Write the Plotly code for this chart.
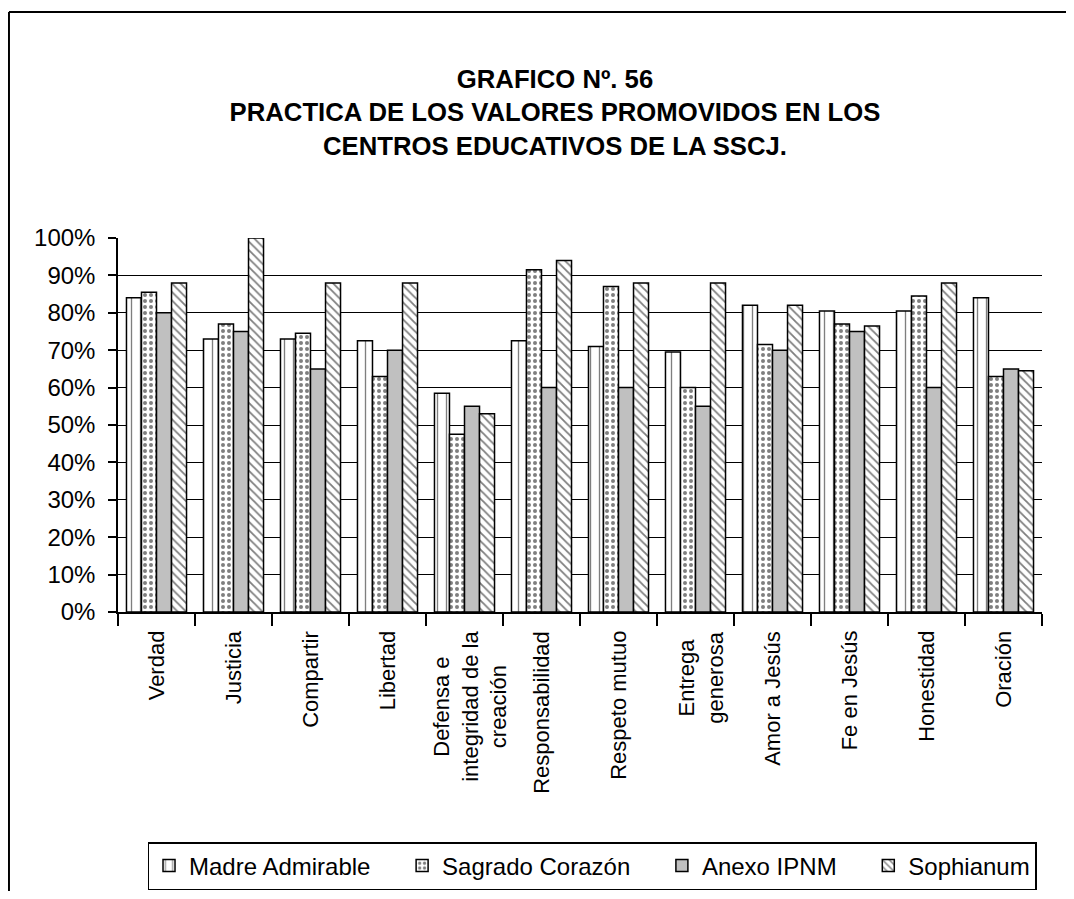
import plotly.graph_objects as go

categories = ["Verdad", "Justicia", "Compartir", "Libertad",
              "Defensa e<br>integridad de la<br>creación", "Responsabilidad",
              "Respeto mutuo", "Entrega<br>generosa", "Amor a Jesús",
              "Fe en Jesús", "Honestidad", "Oración"]

madre_admirable = [0.84, 0.73, 0.73, 0.725, 0.585, 0.725, 0.71, 0.695, 0.82, 0.805, 0.805, 0.84]
sagrado_corazon = [0.855, 0.77, 0.745, 0.63, 0.475, 0.915, 0.87, 0.60, 0.715, 0.77, 0.845, 0.63]
anexo_ipnm = [0.80, 0.75, 0.65, 0.70, 0.55, 0.60, 0.60, 0.55, 0.70, 0.75, 0.60, 0.65]
sophianum = [0.88, 1.00, 0.88, 0.88, 0.53, 0.94, 0.88, 0.88, 0.82, 0.765, 0.88, 0.645]

series_names = ["Madre Admirable", "Sagrado Corazón", "Anexo IPNM", "Sophianum"]

FONT = "Liberation Sans, Arial, sans-serif"

styles = [
    dict(color="white", pattern=dict(shape="|", fgcolor="black", bgcolor="white", size=9, solidity=0.15)),
    dict(color="white", pattern=dict(shape=".", fgcolor="black", bgcolor="white", size=6, solidity=0.35)),
    dict(color="#C0C0C0"),
    dict(color="white", pattern=dict(shape="\\", fgcolor="black", bgcolor="white", size=6, solidity=0.3)),
]

PAD = "\u00a0" * 4  # extra spacing between legend entries

fig = go.Figure()
for i, (name, vals, st) in enumerate(zip(series_names, [madre_admirable, sagrado_corazon, anexo_ipnm, sophianum], styles)):
    fig.add_trace(go.Bar(
        x=categories, y=vals, name=name + (PAD if i < len(series_names) - 1 else ""),
        marker=dict(**st, line=dict(color="black", width=1.5)),
    ))

# category labels as rotated annotations (centered multi-line text, top-anchored)
annotations = [
    dict(x=c, y=-0.045, xref="x", yref="paper", text=c, textangle=-90,
         xanchor="center", yanchor="top", align="center", showarrow=False,
         xshift=(6 if "<br>" in c else 0),
         font=dict(family=FONT, size=22, color="black"))
    for c in categories
]

W, H = 1058, 883
fig.update_layout(
    width=W, height=H,
    paper_bgcolor="white", plot_bgcolor="white",
    margin=dict(l=110, r=W - 110 - 924, t=230, b=H - 230 - 374, autoexpand=False),
    barmode="group", bargap=0.22, bargroupgap=0.0,
    font=dict(family=FONT, size=22, color="black"),
    title=dict(
        text="<b>GRAFICO Nº. 56<br>PRACTICA DE LOS VALORES PROMOVIDOS EN LOS<br>CENTROS EDUCATIVOS DE LA SSCJ.</b>",
        x=547/W, xanchor="center", xref="container",
        y=1-80/H, yanchor="top", yref="container",
        font=dict(family=FONT, size=25.7, color="black"),
    ),
    showlegend=True,
    legend=dict(
        orientation="h", x=0.513, xanchor="center", y=-0.615, yanchor="top",
        bordercolor="black", borderwidth=1.5, bgcolor="white",
        font=dict(family=FONT, size=24, color="black"),
        itemwidth=30, tracegroupgap=0,
    ),
    xaxis=dict(
        type="category", showline=True, linecolor="black", linewidth=1.5,
        ticks="outside", tickson="boundaries", ticklen=12, tickcolor="black", tickwidth=1.5,
        showticklabels=False, showgrid=False,
    ),
    yaxis=dict(
        range=[0, 1.0], dtick=0.1, tickformat=".0%",
        showline=True, linecolor="black", linewidth=1.5,
        ticks="outside", ticklen=8, tickcolor="black", tickwidth=1.5,
        ticklabelstandoff=8,
        showgrid=True, gridcolor="black", gridwidth=1.2, zeroline=False,
        tickfont=dict(family=FONT, size=24, color="black"),
    ),
    annotations=annotations,
    shapes=[
        dict(type="line", xref="paper", yref="paper",
             x0=-0.118, x1=1.1, y0=1.604, y1=1.604,
             line=dict(color="black", width=2), layer="below"),
        dict(type="line", xref="paper", yref="paper",
             x0=-0.118, x1=-0.118, y0=-0.8, y1=1.604,
             line=dict(color="black", width=2), layer="below"),
    ],
)

fig.write_html("out.html", config={"displayModeBar": False})
